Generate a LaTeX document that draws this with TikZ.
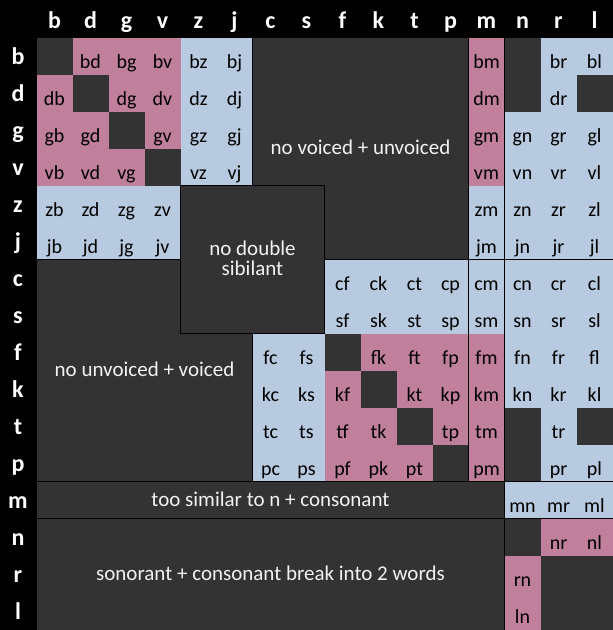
\documentclass[tikz,border=0pt]{standalone}
\usepackage{fontspec}
\setmainfont{Carlito}
\definecolor{pinkc}{HTML}{C0809B}
\definecolor{bluec}{HTML}{B7CADF}
\definecolor{darkc}{HTML}{333333}
\definecolor{txtw}{HTML}{F2F2F2}
\tikzset{
  hdr/.style={text=white, font=\fontsize{24}{24}\selectfont\bfseries, inner sep=0pt, anchor=base},
  celltxt/.style={text=black, font=\fontsize{20}{20}\selectfont, inner sep=0pt, anchor=base},
  regtxt/.style={text=txtw, font=\fontsize{21}{20.3}\selectfont, inner sep=0pt, align=center},
  grpline/.style={black, line width=1.5pt},
  regbox/.style={draw=black, line width=1.5pt, fill=darkc, inner sep=0pt},
}
\def\cmrowb{{0,1,1,1,2,2,0,0,0,0,0,0,1,0,2,2}}
\def\cmrowd{{1,0,1,1,2,2,0,0,0,0,0,0,1,0,2,0}}
\def\cmrowg{{1,1,0,1,2,2,0,0,0,0,0,0,1,2,2,2}}
\def\cmrowv{{1,1,1,0,2,2,0,0,0,0,0,0,1,2,2,2}}
\def\cmrowz{{2,2,2,2,0,0,0,0,0,0,0,0,2,2,2,2}}
\def\cmrowj{{2,2,2,2,0,0,0,0,0,0,0,0,2,2,2,2}}
\def\cmrowc{{0,0,0,0,0,0,0,0,2,2,2,2,2,2,2,2}}
\def\cmrows{{0,0,0,0,0,0,0,0,2,2,2,2,2,2,2,2}}
\def\cmrowf{{0,0,0,0,0,0,2,2,0,1,1,1,1,2,2,2}}
\def\cmrowk{{0,0,0,0,0,0,2,2,1,0,1,1,1,2,2,2}}
\def\cmrowt{{0,0,0,0,0,0,2,2,1,1,0,1,1,0,2,0}}
\def\cmrowp{{0,0,0,0,0,0,2,2,1,1,1,0,1,0,2,2}}
\def\cmrowm{{0,0,0,0,0,0,0,0,0,0,0,0,0,2,2,2}}
\def\cmrown{{0,0,0,0,0,0,0,0,0,0,0,0,0,0,1,1}}
\def\cmrowr{{0,0,0,0,0,0,0,0,0,0,0,0,0,1,0,0}}
\def\cmrowl{{0,0,0,0,0,0,0,0,0,0,0,0,0,1,0,0}}
\begin{document}
\begin{tikzpicture}[x=1pt,y=-1pt]
\useasboundingbox (0,0) rectangle (613,630);
\fill[black] (0,0) rectangle (613,630);
\fill[darkc] (36.5,37.5) rectangle (612.5,629.5);
\foreach \R [count=\ri from 0] in {b,d,g,v,z,j,c,s,f,k,t,p,m,n,r,l} {
  \node[hdr] (colh\ri) at ({54.5+36*\ri},28.5) {\R};
  \node[hdr] (rowh\ri) at (18,{64.8+37*\ri}) {\R};
  \expandafter\let\expandafter\currow\csname cmrow\R\endcsname
  \foreach \C [count=\ci from 0] in {b,d,g,v,z,j,c,s,f,k,t,p,m,n,r,l} {
    \pgfmathtruncatemacro\cv{\currow[\ci]}
    \ifnum\cv>0
      \ifnum\cv=1 \def\cc{pinkc}\else\def\cc{bluec}\fi
      \fill[\cc] ({36.5+36*\ci},{37.5+37*\ri}) rectangle ++(36,37);
      \node[celltxt] (cell\ri-\ci) at ({54.5+36*\ci},{68.5+37*\ri}) {\R\C};
    \fi
  }
}
% group boundary lines
\draw[grpline] (36.5,259.5) -- (612.5,259.5);
\draw[grpline] (36.5,481.5) -- (612.5,481.5);
\draw[grpline] (36.5,518.5) -- (612.5,518.5);
\draw[grpline] (252.5,37.5) -- (252.5,481.5);
\draw[grpline] (468.5,37.5) -- (468.5,481.5);
\draw[grpline] (504.5,37.5) -- (504.5,629.5);
% sibilant box
\node[regbox, minimum width=144pt, minimum height=148pt] (sib) at (252.5,259.5) {};
\node[regtxt] (sibt) at (252.5,258.5) {no double\\sibilant};
% region labels
\node[regtxt] (nvu) at (360.5,147.5) {no voiced + unvoiced};
\node[regtxt] (nuv) at (144.5,369) {no unvoiced + voiced};
\node[regtxt] (sim) at (270.5,499.7) {too similar to n + consonant};
\node[regtxt] (son) at (270.5,573) {sonorant + consonant break into 2 words};
\end{tikzpicture}
\end{document}
